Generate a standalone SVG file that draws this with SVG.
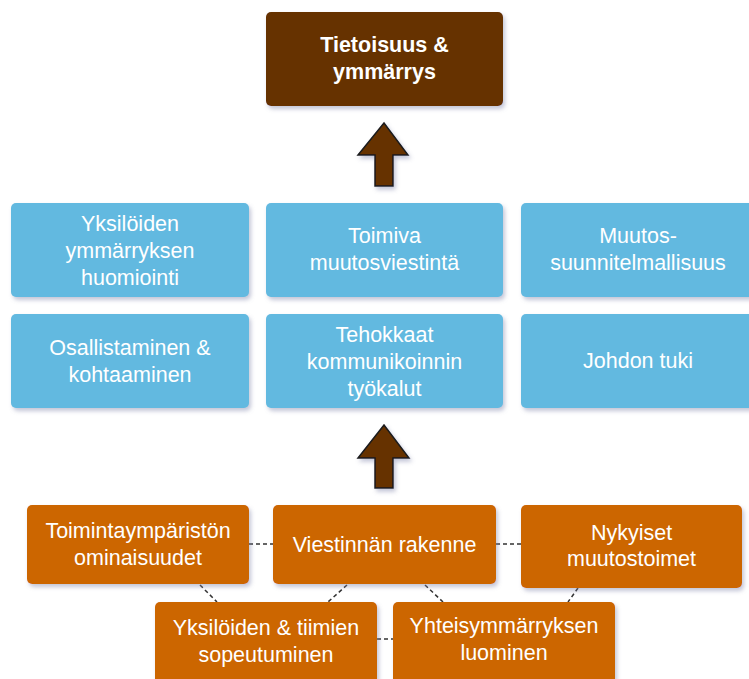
<svg xmlns="http://www.w3.org/2000/svg" width="749" height="679" viewBox="0 0 749 679">
<defs>
<filter id="sh" x="-10%" y="-10%" width="130%" height="140%">
<feDropShadow dx="2" dy="3" stdDeviation="2" flood-color="#7a80a8" flood-opacity="0.45"/>
</filter>
<style>
.box{filter:url(#sh)}
.top{fill:#663300}
.blue{fill:#62b9e0}
.org{fill:#cc6600}
text{font-family:"Liberation Sans",Arial,sans-serif;font-size:21.5px;fill:#ffffff;text-anchor:middle}
.b{font-weight:bold}
.arrow{fill:#663300;stroke:#1a1a1a;stroke-width:1.5;filter:url(#sh)}
.dash{stroke:#333333;stroke-width:1.5;stroke-dasharray:4 3;fill:none}
</style>
</defs>
<rect width="749" height="679" fill="#ffffff"/>
<g id="connectors">
<line class="dash" x1="249" y1="544" x2="273" y2="544"/>
<line class="dash" x1="496" y1="544" x2="521" y2="544"/>
<line class="dash" x1="377" y1="639" x2="393" y2="639"/>
<line class="dash" x1="200" y1="585" x2="217" y2="602"/>
<line class="dash" x1="347" y1="585" x2="328" y2="602"/>
<line class="dash" x1="425" y1="585" x2="443" y2="602"/>
<line class="dash" x1="578" y1="588" x2="568" y2="602"/>
<polygon class="arrow" points="384,123 408,155 393,155 393,186 375,186 375,155 358,155"/>
<polygon class="arrow" points="384,425 409,458 393,458 393,488 375,488 375,458 358,458"/>
</g>
<g id="n_top">
<rect class="box top" x="266" y="12" width="237" height="94" rx="5"/>
<text class="b" x="384.5" y="52">Tietoisuus &amp;</text>
<text class="b" x="384.5" y="79">ymmärrys</text>
</g>
<g id="n_yksiloiden_ymm">
<rect class="box blue" x="11" y="203" width="238" height="94" rx="5"/>
<text x="130" y="231">Yksilöiden</text>
<text x="130" y="258">ymmärryksen</text>
<text x="130" y="285">huomiointi</text>
</g>
<g id="n_toimiva">
<rect class="box blue" x="266" y="203" width="237" height="94" rx="5"/>
<text x="384.5" y="243">Toimiva</text>
<text x="384.5" y="270">muutosviestintä</text>
</g>
<g id="n_muutos">
<rect class="box blue" x="521" y="203" width="236" height="94" rx="5"/>
<text x="638" y="243">Muutos-</text>
<text x="638" y="270">suunnitelmallisuus</text>
</g>
<g id="n_osallistaminen">
<rect class="box blue" x="11" y="314" width="238" height="94" rx="5"/>
<text x="130" y="355">Osallistaminen &amp;</text>
<text x="130" y="382">kohtaaminen</text>
</g>
<g id="n_tehokkaat">
<rect class="box blue" x="266" y="314" width="237" height="94" rx="5"/>
<text x="384.5" y="342">Tehokkaat</text>
<text x="384.5" y="369">kommunikoinnin</text>
<text x="384.5" y="396">työkalut</text>
</g>
<g id="n_johdon">
<rect class="box blue" x="521" y="314" width="236" height="94" rx="5"/>
<text x="638" y="368">Johdon tuki</text>
</g>
<g id="n_toimintaymp">
<rect class="box org" x="27" y="505" width="222" height="79" rx="5"/>
<text x="138" y="538">Toimintaympäristön</text>
<text x="138" y="565">ominaisuudet</text>
</g>
<g id="n_viestinnan">
<rect class="box org" x="273" y="505" width="223" height="79" rx="5"/>
<text x="384.5" y="552">Viestinnän rakenne</text>
</g>
<g id="n_nykyiset">
<rect class="box org" x="521" y="505" width="221" height="83" rx="5"/>
<text x="631.5" y="540">Nykyiset</text>
<text x="631.5" y="566">muutostoimet</text>
</g>
<g id="n_yksiloiden_tiimien">
<rect class="box org" x="155" y="602" width="222" height="84" rx="5"/>
<text x="266" y="635">Yksilöiden &amp; tiimien</text>
<text x="266" y="662">sopeutuminen</text>
</g>
<g id="n_yhteis">
<rect class="box org" x="393" y="602" width="222" height="84" rx="5"/>
<text x="504" y="633">Yhteisymmärryksen</text>
<text x="504" y="660">luominen</text>
</g>
</svg>
